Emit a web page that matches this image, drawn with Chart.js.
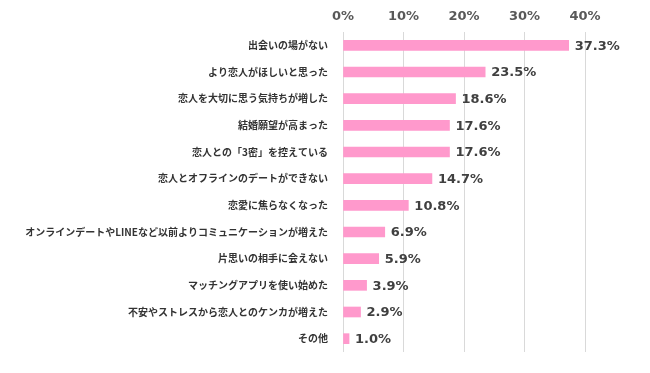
<!DOCTYPE html>
<html><head><meta charset="utf-8">
<script src="https://cdn.jsdelivr.net/npm/chart.js@4"></script>
<style>html,body{margin:0;padding:0;background:#fff}#w{width:650px;height:373px}</style>
</head><body><div id="w"><canvas id="c"></canvas></div>
<script>
const categories = ["出会いの場がない","より恋人がほしいと思った","恋人を大切に思う気持ちが増した","結婚願望が高まった","恋人との「3密」を控えている","恋人とオフラインのデートができない","恋愛に焦らなくなった","オンラインデートやLINEなど以前よりコミュニケーションが増えた","片思いの相手に会えない","マッチングアプリを使い始めた","不安やストレスから恋人とのケンカが増えた","その他"];
const values = [37.3,23.5,18.6,17.6,17.6,14.7,10.8,6.9,5.9,3.9,2.9,1.0];
const tickValues = [0,10,20,30,40];

const valueLabels = {
  id:'valueLabels',
  afterDatasetsDraw(chart){
    const ctx = chart.ctx;
    const meta = chart.getDatasetMeta(0);
    ctx.save();
    ctx.font = 'bold 13px "DejaVu Sans", sans-serif';
    ctx.fillStyle = '#404040';
    ctx.textAlign = 'left';
    ctx.textBaseline = 'middle';
    meta.data.forEach((bar,i)=>{
      ctx.fillText(values[i].toFixed(1)+'%', bar.x+6, bar.y+1);
    });
    ctx.restore();
  }
};

new Chart(document.getElementById('c'),{
  type:'bar',
  data:{labels:categories,datasets:[{data:values,backgroundColor:'#ff99cc',borderWidth:0,barThickness:10}]},
  options:{
    indexAxis:'y',responsive:true,maintainAspectRatio:false,animation:false,
    layout:{padding:{left:0,right:65,top:0,bottom:8}},
    plugins:{legend:{display:false},tooltip:{enabled:false}},
    scales:{
      x:{position:'top',min:0,max:40,
        afterBuildTicks(s){s.ticks=tickValues.map(v=>({value:v}));},
        afterFit(s){s.height=32;},
        grid:{color:'#d9d9d9',drawTicks:false,lineWidth:1},
        border:{display:false},
        ticks:{padding:8,color:'#595959',font:{family:'"DejaVu Sans", sans-serif',size:13,weight:'bold'},callback:v=>v+'%'}
      },
      y:{
        afterFit(s){s.width=343;},
        grid:{display:false,drawTicks:false},
        border:{display:false},
        ticks:{padding:15,color:'#333333',font:{family:'"Noto Sans CJK JP", sans-serif',size:10,weight:'bold'}}
      }
    }
  },
  plugins:[valueLabels]
});
</script></body></html>
